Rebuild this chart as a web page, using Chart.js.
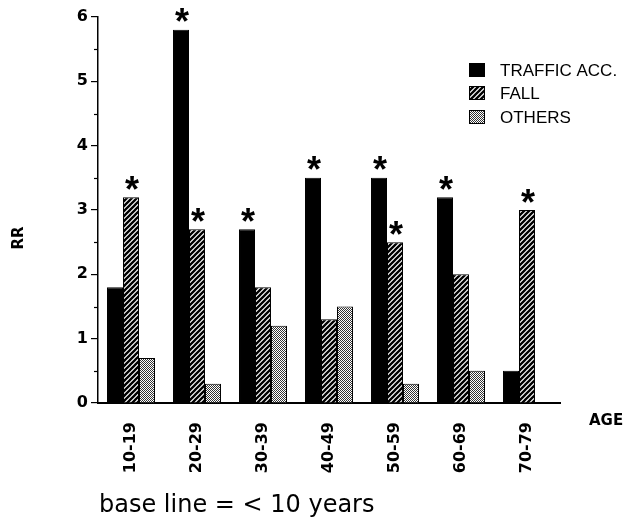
<!DOCTYPE html>
<html>
<head>
<meta charset="utf-8">
<script src="https://cdn.jsdelivr.net/npm/chart.js@4.4.1/dist/chart.umd.min.js"></script>
<style>
  html, body { margin: 0; padding: 0; background: #fff; }
  #wrap { width: 627px; height: 521px; }
</style>
</head>
<body>
<div id="wrap"><canvas id="c" width="627" height="521"></canvas></div>
<script>
// Age groups and relative risks (RR) by cause of injury
const categories = ['10-19', '20-29', '30-39', '40-49', '50-59', '60-69', '70-79'];
const trafficAcc = [1.8, 5.8, 2.7, 3.5, 3.5, 3.2, 0.5];
const fall       = [3.2, 2.7, 1.8, 1.3, 2.5, 2.0, 3.0];
const others     = [0.7, 0.3, 1.2, 1.5, 0.3, 0.5, null];

// significant difference markers (*)
const trafficSig = [false, true, true, true, true, true, false];
const fallSig    = [true, true, false, false, true, false, true];
const othersSig  = [false, false, false, false, false, false, false];

const yTickValues = [0, 1, 2, 3, 4, 5, 6];
const seriesNames = ['TRAFFIC ACC.', 'FALL', 'OTHERS'];
const xAxisName = 'AGE';
const yAxisName = 'RR';
const footnote = 'base line = < 10 years';

// fill patterns
function hatchPattern() {
  const s = 5;
  const cv = document.createElement('canvas');
  cv.width = s; cv.height = s;
  const g = cv.getContext('2d');
  g.fillStyle = '#fff'; g.fillRect(0, 0, s, s);
  g.strokeStyle = '#000'; g.lineWidth = 2.3;
  g.beginPath();
  g.moveTo(-1, s + 1); g.lineTo(s + 1, -1);
  g.moveTo(-1, 1); g.lineTo(1, -1);
  g.moveTo(s - 1, s + 1); g.lineTo(s + 1, s - 1);
  g.stroke();
  return g.createPattern(cv, 'repeat');
}
function stipplePattern() {
  const cv = document.createElement('canvas');
  cv.width = 2; cv.height = 2;
  const g = cv.getContext('2d');
  g.fillStyle = '#fff'; g.fillRect(0, 0, 2, 2);
  g.fillStyle = '#333';
  g.fillRect(0, 0, 1, 1); g.fillRect(1, 1, 1, 1);
  return g.createPattern(cv, 'repeat');
}
const fills = ['#000', hatchPattern(), stipplePattern()];
const sigs = [trafficSig, fallSig, othersSig];

const FONT = '"Liberation Sans", Arial, Helvetica, sans-serif';
const HEAVY = '"DejaVu Sans", Verdana, sans-serif';

const extras = {
  id: 'extras',
  afterDatasetsDraw(chart) {
    const ctx = chart.ctx;
    const y = chart.scales.y;
    const area = chart.chartArea;
    ctx.save();
    // minor ticks at half units
    ctx.strokeStyle = '#000'; ctx.lineWidth = 1.2;
    for (let v = 0.5; v < 6; v += 1) {
      const py = Math.round(y.getPixelForValue(v)) + 0.5;
      ctx.beginPath(); ctx.moveTo(area.left - 4, py); ctx.lineTo(area.left, py); ctx.stroke();
    }
    // significance asterisks
    ctx.fillStyle = '#000';
    ctx.font = 'bold 36px ' + FONT;
    ctx.textAlign = 'center';
    ctx.textBaseline = 'alphabetic';
    const m = ctx.measureText('*');
    const mid = (m.actualBoundingBoxAscent - m.actualBoundingBoxDescent) / 2;
    sigs.forEach((arr, di) => {
      const meta = chart.getDatasetMeta(di);
      arr.forEach((on, i) => {
        if (!on) return;
        const bar = meta.data[i];
        ctx.fillText('*', bar.x + 1, bar.y - 14.5 + mid);
      });
    });
    // legend
    const lx = 469, ly = [63, 86, 110];
    ctx.font = '17px ' + FONT;
    ctx.textAlign = 'left';
    ctx.textBaseline = 'middle';
    seriesNames.forEach((name, i) => {
      ctx.fillStyle = fills[i];
      ctx.fillRect(lx, ly[i], 16, 14);
      ctx.strokeStyle = '#000'; ctx.lineWidth = 1;
      ctx.strokeRect(lx + 0.5, ly[i] + 0.5, 15, 13);
      ctx.fillStyle = '#000';
      ctx.fillText(name, 500, ly[i] + 8);
    });
    // axis names
    ctx.font = 'bold 15px ' + HEAVY;
    ctx.textAlign = 'left';
    ctx.textBaseline = 'middle';
    ctx.fillText(xAxisName, 589, 421);
    ctx.save();
    ctx.translate(19, 238);
    ctx.rotate(-Math.PI / 2);
    ctx.textAlign = 'center';
    ctx.fillText(yAxisName, 0, 0);
    ctx.restore();
    // footnote
    ctx.font = '24px ' + HEAVY;
    ctx.textAlign = 'left';
    ctx.textBaseline = 'alphabetic';
    ctx.fillText(footnote, 99, 512);
    ctx.restore();
  }
};

new Chart(document.getElementById('c'), {
  type: 'bar',
  data: {
    labels: categories,
    datasets: [
      { label: seriesNames[0], data: trafficAcc, backgroundColor: fills[0] },
      { label: seriesNames[1], data: fall, backgroundColor: fills[1] },
      { label: seriesNames[2], data: others, backgroundColor: fills[2] }
    ].map(d => Object.assign(d, {
      borderColor: '#000', borderWidth: 1,
      categoryPercentage: 0.727, barPercentage: 1.0
    }))
  },
  options: {
    responsive: false,
    animation: false,
    events: [],
    layout: { padding: { top: 17, right: 67, left: 0, bottom: 0 } },
    plugins: { legend: { display: false }, tooltip: { enabled: false } },
    scales: {
      x: {
        afterFit: s => { s.height = 118; },
        grid: { display: false },
        border: { display: true, color: '#000', width: 2 },
        ticks: {
          autoSkip: false, minRotation: 90, maxRotation: 90, padding: 11,
          color: '#000', font: { family: HEAVY, size: 16, weight: 'bold' }
        }
      },
      y: {
        min: 0, max: 6,
        afterFit: s => { s.width = 98; },
        afterBuildTicks: s => { s.ticks = yTickValues.map(v => ({ value: v })); },
        grid: { drawOnChartArea: false, drawTicks: true, tickLength: 7, color: '#000', lineWidth: 1.2 },
        border: { display: true, color: '#000', width: 1.5 },
        ticks: {
          padding: 3, color: '#000',
          font: { family: HEAVY, size: 16, weight: 'bold' }
        }
      }
    }
  },
  plugins: [extras]
});
</script>
</body>
</html>
